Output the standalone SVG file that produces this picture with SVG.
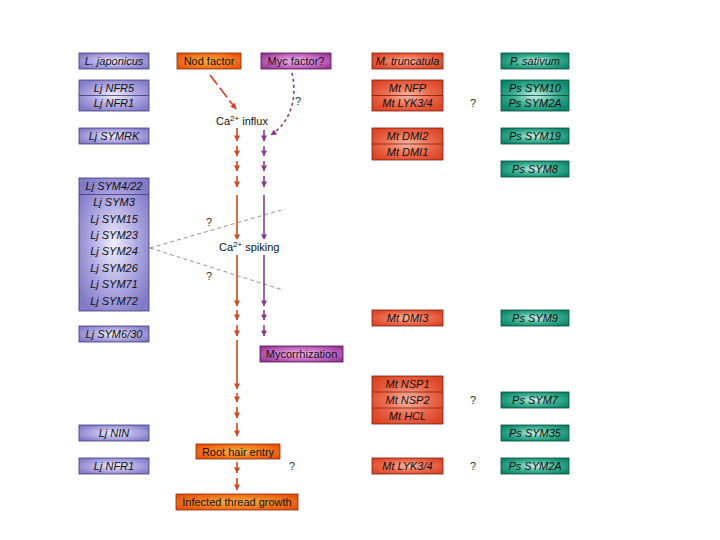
<svg xmlns="http://www.w3.org/2000/svg" width="720" height="540" viewBox="0 0 720 540">
<defs>
<radialGradient id="gLav" cx="50%" cy="50%" r="60%"><stop offset="0" stop-color="#f0eefc"/><stop offset="0.55" stop-color="#b0a9e2"/><stop offset="1" stop-color="#837bc8"/></radialGradient>
<radialGradient id="gMt" cx="50%" cy="50%" r="60%"><stop offset="0" stop-color="#f9b7a3"/><stop offset="0.55" stop-color="#ec6a4c"/><stop offset="1" stop-color="#dc4426"/></radialGradient>
<radialGradient id="gPs" cx="50%" cy="50%" r="60%"><stop offset="0" stop-color="#c8f2e6"/><stop offset="0.55" stop-color="#3aae90"/><stop offset="1" stop-color="#0c866a"/></radialGradient>
<radialGradient id="gNod" cx="50%" cy="50%" r="60%"><stop offset="0" stop-color="#f8b040"/><stop offset="0.6" stop-color="#f27a1c"/><stop offset="1" stop-color="#e8520c"/></radialGradient>
<radialGradient id="gMyc" cx="50%" cy="50%" r="60%"><stop offset="0" stop-color="#f0b8e8"/><stop offset="0.6" stop-color="#c46ac0"/><stop offset="1" stop-color="#9a3a98"/></radialGradient>
<marker id="aO" viewBox="0 0 10 10" refX="9" refY="5" markerWidth="7" markerHeight="6" orient="auto" markerUnits="userSpaceOnUse"><path d="M0,0 L10,5 L0,10 z" fill="#d4481c"/></marker>
<marker id="aP" viewBox="0 0 10 10" refX="9" refY="5" markerWidth="7" markerHeight="6" orient="auto" markerUnits="userSpaceOnUse"><path d="M0,0 L10,5 L0,10 z" fill="#8a3c92"/></marker>
<marker id="aR" viewBox="0 0 10 10" refX="9" refY="5" markerWidth="7" markerHeight="6" orient="auto" markerUnits="userSpaceOnUse"><path d="M0,0 L10,5 L0,10 z" fill="#e03a20"/></marker>
</defs>
<style>
text{font-family:"Liberation Sans",Arial,sans-serif;font-size:11px;fill:#111}
.c{text-anchor:middle}
.i{font-style:italic}
.lav{fill:url(#gLav);stroke:#3c3a78;stroke-width:0.8}
.mt{fill:url(#gMt);stroke:#7a1c10;stroke-width:0.8}
.ps{fill:url(#gPs);stroke:#06463a;stroke-width:0.8}
.nod{fill:url(#gNod);stroke:#8a2a08;stroke-width:0.8}
.myc{fill:url(#gMyc);stroke:#4e1050;stroke-width:0.8}
.div{stroke:#3c3a78;stroke-width:0.8}
.divm{stroke:#7a1c10;stroke-width:0.8}
.divp{stroke:#06463a;stroke-width:0.8}
.ao{stroke:#d4481c;stroke-width:1.6;fill:none;marker-end:url(#aO)}
.ap{stroke:#8a3c92;stroke-width:1.6;fill:none;marker-end:url(#aP)}
.dash{stroke:#777;stroke-width:0.8;stroke-dasharray:4 3;fill:none}
.q{fill:#333}
</style>
<rect width="720" height="540" fill="#fff"/>

<g id="connectors">
<path class="dash" d="M150,248 L285,209"/>
<path class="dash" d="M150,248 L283,290"/>
<path d="M210,75 L236,109" stroke="#e03a20" stroke-width="1.6" stroke-dasharray="12 4" fill="none" marker-end="url(#aR)"/>
<path d="M292,73 C297,95 293,120 271,135" stroke="#8a3c92" stroke-width="1.6" stroke-dasharray="3 3" fill="none" marker-end="url(#aP)"/>
<path class="ao" d="M237,128 V141"/>
<path class="ao" d="M237,146 V156"/>
<path class="ao" d="M237,161 V171"/>
<path class="ao" d="M237,176 V187"/>
<path class="ao" d="M237,195 V240"/>
<path class="ao" d="M237,255 V306"/>
<path class="ao" d="M237,310 V320"/>
<path class="ao" d="M237,325 V336"/>
<path class="ao" d="M237,340 V389"/>
<path class="ao" d="M237,393 V402"/>
<path class="ao" d="M237,407 V418"/>
<path class="ao" d="M237,423 V436"/>
<path class="ao" d="M237,462 V473"/>
<path class="ao" d="M237,478 V490"/>
<path class="ap" d="M264,130 V141"/>
<path class="ap" d="M264,146 V156"/>
<path class="ap" d="M264,161 V171"/>
<path class="ap" d="M264,176 V187"/>
<path class="ap" d="M264,195 V240"/>
<path class="ap" d="M264,255 V306"/>
<path class="ap" d="M264,310 V320"/>
<path class="ap" d="M264,325 V336"/>
</g>

<g id="labels">
<rect x="213" y="112" width="60" height="14" fill="#fff"/>
<text x="216" y="125">Ca<tspan font-size="8" dy="-4">2+</tspan><tspan dy="4"> influx</tspan></text>
<rect x="217" y="239" width="70" height="14" fill="#fff"/>
<text x="219" y="251">Ca<tspan font-size="8" dy="-4">2+</tspan><tspan dy="4"> spiking</tspan></text>
<text class="q" x="295" y="105">?</text>
<text class="q" x="206" y="226">?</text>
<text class="q" x="206" y="280">?</text>
<text class="q" x="289" y="470">?</text>
<text class="q" x="470" y="107">?</text>
<text class="q" x="470" y="404">?</text>
<text class="q" x="470" y="470">?</text>
</g>

<g id="nod-factor"><rect class="nod" x="177" y="53" width="64" height="16"/><text class="c" x="209" y="65">Nod factor</text></g>
<g id="myc-factor"><rect class="myc" x="261" y="53" width="70" height="16"/><text class="c" x="296" y="65">Myc factor?</text></g>
<g id="mycorrhization"><rect class="myc" x="260" y="346" width="83" height="16"/><text class="c" x="301.5" y="358">Mycorrhization</text></g>
<g id="root-hair-entry"><rect class="nod" x="196" y="444" width="84" height="15"/><text class="c" x="238" y="456">Root hair entry</text></g>
<g id="infected-thread"><rect class="nod" x="176" y="494" width="122" height="16"/><text class="c" x="237" y="506">Infected thread growth</text></g>

<g id="lj-header"><rect class="lav" x="79" y="53" width="70" height="16"/><text class="c i" x="114" y="65">L. japonicus</text></g>
<g id="lj-nfr"><rect class="lav" x="79" y="80" width="70" height="31"/><line class="div" x1="79" y1="95.5" x2="149" y2="95.5"/><text class="c i" x="114" y="92">Lj NFR5</text><text class="c i" x="114" y="107">Lj NFR1</text></g>
<g id="lj-symrk"><rect class="lav" x="79" y="128" width="70" height="16"/><text class="c i" x="114" y="140">Lj SYMRK</text></g>
<g id="lj-sym"><rect class="lav" x="79" y="178" width="70" height="133"/><line class="div" x1="79" y1="194.5" x2="149" y2="194.5"/>
<text class="c i" x="114" y="190">Lj SYM4/22</text>
<text class="c i" x="114" y="206">Lj SYM3</text>
<text class="c i" x="114" y="223">Lj SYM15</text>
<text class="c i" x="114" y="239">Lj SYM23</text>
<text class="c i" x="114" y="255">Lj SYM24</text>
<text class="c i" x="114" y="272">Lj SYM26</text>
<text class="c i" x="114" y="288">Lj SYM71</text>
<text class="c i" x="114" y="305">Lj SYM72</text></g>
<g id="lj-sym630"><rect class="lav" x="79" y="326" width="70" height="16"/><text class="c i" x="114" y="338">Lj SYM6/30</text></g>
<g id="lj-nin"><rect class="lav" x="79" y="425" width="70" height="16"/><text class="c i" x="114" y="437">Lj NIN</text></g>
<g id="lj-nfr1"><rect class="lav" x="79" y="458" width="70" height="16"/><text class="c i" x="114" y="470">Lj NFR1</text></g>

<g id="mt-header"><rect class="mt" x="372" y="53" width="71" height="16"/><text class="c i" x="407.5" y="65">M. truncatula</text></g>
<g id="mt-nfp"><rect class="mt" x="372" y="80" width="71" height="31"/><line class="divm" x1="372" y1="95.5" x2="443" y2="95.5"/><text class="c i" x="407.5" y="92">Mt NFP</text><text class="c i" x="407.5" y="107">Mt LYK3/4</text></g>
<g id="mt-dmi"><rect class="mt" x="372" y="128" width="71" height="32"/><line class="divm" x1="372" y1="144" x2="443" y2="144"/><text class="c i" x="407.5" y="140">Mt DMI2</text><text class="c i" x="407.5" y="156">Mt DMI1</text></g>
<g id="mt-dmi3"><rect class="mt" x="372" y="310" width="71" height="16"/><text class="c i" x="407.5" y="322">Mt DMI3</text></g>
<g id="mt-nsp"><rect class="mt" x="372" y="376" width="71" height="48"/><line class="divm" x1="372" y1="392" x2="443" y2="392"/><line class="divm" x1="372" y1="408" x2="443" y2="408"/><text class="c i" x="407.5" y="388">Mt NSP1</text><text class="c i" x="407.5" y="404">Mt NSP2</text><text class="c i" x="407.5" y="420">Mt HCL</text></g>
<g id="mt-lyk"><rect class="mt" x="372" y="458" width="71" height="16"/><text class="c i" x="407.5" y="470">Mt LYK3/4</text></g>

<g id="ps-header"><rect class="ps" x="501" y="53" width="68" height="16"/><text class="c i" x="535" y="65">P. sativum</text></g>
<g id="ps-sym10"><rect class="ps" x="501" y="80" width="68" height="31"/><line class="divp" x1="501" y1="95.5" x2="569" y2="95.5"/><text class="c i" x="535" y="92">Ps SYM10</text><text class="c i" x="535" y="107">Ps SYM2A</text></g>
<g id="ps-sym19"><rect class="ps" x="501" y="128" width="68" height="16"/><text class="c i" x="535" y="140">Ps SYM19</text></g>
<g id="ps-sym8"><rect class="ps" x="501" y="161" width="68" height="16"/><text class="c i" x="535" y="173">Ps SYM8</text></g>
<g id="ps-sym9"><rect class="ps" x="501" y="310" width="68" height="16"/><text class="c i" x="535" y="322">Ps SYM9</text></g>
<g id="ps-sym7"><rect class="ps" x="501" y="392" width="68" height="16"/><text class="c i" x="535" y="404">Ps SYM7</text></g>
<g id="ps-sym35"><rect class="ps" x="501" y="425" width="68" height="16"/><text class="c i" x="535" y="437">Ps SYM35</text></g>
<g id="ps-sym2a"><rect class="ps" x="501" y="458" width="68" height="16"/><text class="c i" x="535" y="470">Ps SYM2A</text></g>
</svg>
